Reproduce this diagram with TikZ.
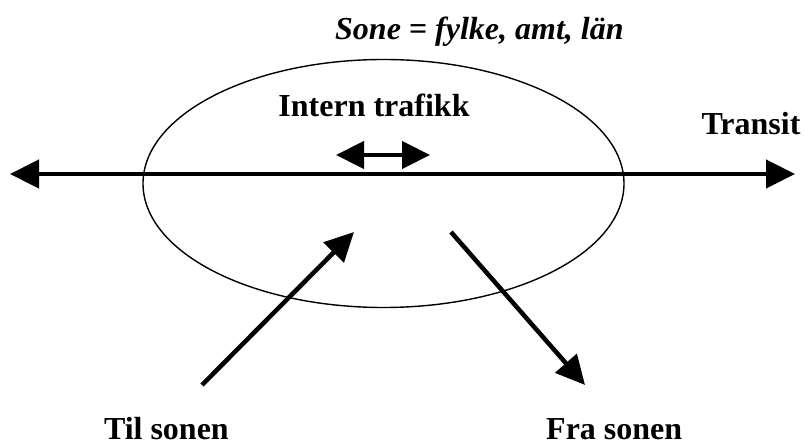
\documentclass[tikz,border=0pt]{standalone}
\usepackage{fontspec}
\setmainfont{Liberation Serif}
\usetikzlibrary{arrows.meta,shapes.geometric}
\begin{document}
\begin{tikzpicture}[x=1pt,y=-1pt,
  lbl/.style={font=\fontsize{32}{38}\selectfont\bfseries, inner sep=0pt},
  thick arrow/.style={line width=4.5pt, -{Triangle[length=29pt,width=28pt]}},
  both arrow/.style={line width=4.5pt, {Triangle[length=28pt,width=27pt]}-{Triangle[length=28pt,width=27pt]}},
  zone/.style={line width=1.4pt}]
\useasboundingbox (0,0) rectangle (804,446);
% zone ellipse
\node[zone, draw, ellipse, minimum width=481pt, minimum height=248pt, inner sep=0pt] (sone) at (383.5,183.5) {};
% coordinates
\coordinate (tl) at (10,174);
\coordinate (tr) at (795,174);
\coordinate (il) at (336,155);
\coordinate (ir) at (430,155);
\coordinate (tilA) at (202,385);
\coordinate (tilB) at (354,232);
\coordinate (fraA) at (451,232);
\coordinate (fraB) at (585,385);
% arrows
\draw[line width=4.5pt, {Triangle[length=29pt,width=28pt]}-{Triangle[length=29pt,width=28pt]}] (tl) -- (tr);
\draw[both arrow] (il) -- (ir);
\draw[thick arrow] (tilA) -- (tilB);
\draw[thick arrow] (fraA) -- (fraB);
% labels
\node[lbl, anchor=base west, font=\fontsize{32}{38}\selectfont\bfseries\itshape] (title) at (335,40) {Sone = fylke, amt, län};
\node[lbl, anchor=base] (intern) at (374,117) {Intern trafikk};
\node[lbl, anchor=base] (transit) at (751,135) {Transit};
\node[lbl, anchor=base east, text depth=0pt] (til) at (229,439) {Til sonen};
\node[lbl, anchor=base west, text depth=0pt] (fra) at (546,439) {Fra sonen};
\end{tikzpicture}
\end{document}
